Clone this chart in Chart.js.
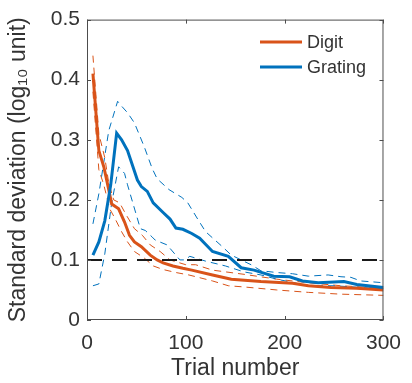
<!DOCTYPE html>
<html>
<head>
<meta charset="utf-8">
<script src="https://cdn.jsdelivr.net/npm/chart.js@4/dist/chart.umd.min.js"></script>
<style>
  html, body { margin: 0; padding: 0; background: #fff; }
  #wrap { width: 412px; height: 383px; }
</style>
</head>
<body>
<div id="wrap"><canvas id="c"></canvas></div>
<script>
// values
var digitTrials = [6,12,17,22,25,32,38,43,48,55,64,71,77,87,97,106,127,146,176,208,224,247,273,300];
var digitMean = [0.41,0.282,0.255,0.217,0.193,0.185,0.163,0.141,0.13,0.122,0.108,0.100,0.095,0.090,0.086,0.083,0.075,0.068,0.064,0.061,0.057,0.054,0.053,0.050];

var digitUpperTrials = [6,12,18,22,27,33,40,48,56,64,74,84,100,110,127,159,192,224,257,300];
var digitUpper = [0.44,0.31,0.27,0.228,0.2,0.195,0.174,0.152,0.141,0.125,0.114,0.10,0.092,0.092,0.083,0.076,0.068,0.062,0.057,0.053];

var digitLowerTrials = [6,12,17,23,28,35,41,48,58,67,77,90,103,127,143,159,192,224,257,300];
var digitLower = [0.38,0.25,0.225,0.185,0.17,0.147,0.13,0.114,0.103,0.09,0.084,0.079,0.075,0.065,0.057,0.055,0.050,0.046,0.043,0.041];

var gratingTrials = [6,12,18,24,30,35,41,51,55,61,67,77,84,90,97,106,114,127,143,156,169,189,205,218,234,260,273,300];
var gratingMean = [0.108,0.13,0.165,0.225,0.311,0.30,0.282,0.233,0.222,0.214,0.195,0.179,0.168,0.153,0.151,0.144,0.136,0.114,0.106,0.087,0.083,0.073,0.072,0.065,0.062,0.064,0.059,0.054];

var gratingUpperTrials = [6,12,22,31,35,41,48,58,66,71,83,96,102,112,120,137,146,166,176,192,208,224,244,257,267,277,300];
var gratingUpper = [0.16,0.21,0.315,0.364,0.356,0.345,0.328,0.288,0.252,0.235,0.217,0.204,0.195,0.168,0.147,0.122,0.108,0.092,0.082,0.079,0.077,0.073,0.075,0.072,0.071,0.065,0.062];

var gratingLowerTrials = [6,12,18,25,32,38,41,54,59,66,69,81,94,99,104,120,140,159,176,192,224,250,289,300];
var gratingLower = [0.057,0.06,0.11,0.195,0.255,0.244,0.225,0.152,0.149,0.138,0.133,0.125,0.10,0.10,0.106,0.098,0.09,0.08,0.075,0.068,0.057,0.057,0.053,0.052];

var refTrials = [0, 300];
var refLevel = [0.1, 0.1];

var seriesNames = ['Digit', 'Grating'];
var xTicks = [0, 100, 200, 300];
var yTicks = [0, 0.1, 0.2, 0.3, 0.4, 0.5];

var ORANGE = '#D95319';
var BLUE = '#0072BD';
var TEXT = '#333333';
var FONT = "'Liberation Sans', Arial, Helvetica, sans-serif";

function pts(xs, ys) {
    return xs.map(function (x, i) { return { x: x, y: ys[i] }; });
}

// box around the axes with inward ticks, plus the legend inside the plot
var boxPlugin = {
    id: 'box',
    afterDraw: function (chart) {
        var ctx = chart.ctx;
        var a = chart.chartArea;
        var xs = chart.scales.x, ys = chart.scales.y;
        ctx.save();
        ctx.strokeStyle = '#4d4d4d';
        ctx.lineWidth = 1;
        ctx.strokeRect(a.left + 0.5, a.top + 0.5, a.right - a.left - 1, a.bottom - a.top - 1);
        ctx.beginPath();
        xTicks.forEach(function (t) {
            var px = Math.round(xs.getPixelForValue(t)) + 0.5;
            ctx.moveTo(px, a.bottom); ctx.lineTo(px, a.bottom - 4);
            ctx.moveTo(px, a.top); ctx.lineTo(px, a.top + 4);
        });
        yTicks.forEach(function (t) {
            var py = Math.round(ys.getPixelForValue(t)) + 0.5;
            ctx.moveTo(a.left, py); ctx.lineTo(a.left + 4, py);
            ctx.moveTo(a.right, py); ctx.lineTo(a.right - 4, py);
        });
        ctx.stroke();

        // legend
        var lx = 260, ly = 42, gap = 25;
        var cols = [ORANGE, BLUE];
        ctx.font = '18px ' + FONT;
        ctx.textBaseline = 'middle';
        ctx.fillStyle = TEXT;
        seriesNames.forEach(function (name, i) {
            var y = ly + i * gap;
            ctx.strokeStyle = cols[i];
            ctx.lineWidth = 3;
            ctx.beginPath();
            ctx.moveTo(lx, y); ctx.lineTo(lx + 42, y);
            ctx.stroke();
            ctx.fillText(name, lx + 47, y + 1);
        });
        ctx.restore();
    }
};

var thin = { borderWidth: 1, borderDash: [7, 5], pointRadius: 0, fill: false, tension: 0 };

new Chart(document.getElementById('c'), {
    type: 'line',
    data: {
        datasets: [
            Object.assign({ label: 'ref', data: pts(refTrials, refLevel), borderColor: '#1a1a1a', order: 1 }, thin, { borderWidth: 2, borderDash: [15, 10] }),
            Object.assign({ label: 'Digit upper', data: pts(digitUpperTrials, digitUpper), borderColor: ORANGE, order: 5 }, thin),
            Object.assign({ label: 'Digit lower', data: pts(digitLowerTrials, digitLower), borderColor: ORANGE, order: 5 }, thin),
            Object.assign({ label: 'Grating upper', data: pts(gratingUpperTrials, gratingUpper), borderColor: BLUE, order: 4 }, thin),
            Object.assign({ label: 'Grating lower', data: pts(gratingLowerTrials, gratingLower), borderColor: BLUE, order: 4 }, thin),
            { label: seriesNames[0], data: pts(digitTrials, digitMean), borderColor: ORANGE, borderWidth: 3, pointRadius: 0, tension: 0, order: 3 },
            { label: seriesNames[1], data: pts(gratingTrials, gratingMean), borderColor: BLUE, borderWidth: 3, pointRadius: 0, tension: 0, order: 2 }
        ]
    },
    options: {
        responsive: true,
        maintainAspectRatio: false,
        animation: false,
        layout: { padding: { top: 13, right: 18, left: 0, bottom: 0 } },
        plugins: { legend: { display: false }, tooltip: { enabled: false } },
        scales: {
            x: {
                type: 'linear',
                min: 0, max: 300,
                afterBuildTicks: function (s) { s.ticks = xTicks.map(function (v) { return { value: v }; }); },
                afterFit: function (s) { s.height = 63; },
                grid: { display: false, drawTicks: false },
                border: { display: false },
                ticks: { padding: 11, color: TEXT, font: { family: FONT, size: 21 }, maxRotation: 0 },
                title: { display: true, text: 'Trial number', color: TEXT, font: { family: FONT, size: 23 }, padding: { top: 0, bottom: 1 } }
            },
            y: {
                min: 0, max: 0.5,
                afterBuildTicks: function (s) { s.ticks = yTicks.map(function (v) { return { value: v }; }); },
                afterFit: function (s) { s.width = 87; },
                grid: { display: false, drawTicks: false },
                border: { display: false },
                ticks: { padding: 7, color: TEXT, font: { family: FONT, size: 21 },
                    callback: function (v) { return v === 0 ? '0' : v.toFixed(1); } },
                title: { display: true, text: 'Standard deviation (log₁₀ unit)', color: TEXT, font: { family: FONT, size: 23 }, padding: { top: 5, bottom: 0 } }
            }
        }
    },
    plugins: [boxPlugin]
});
</script>
</body>
</html>
